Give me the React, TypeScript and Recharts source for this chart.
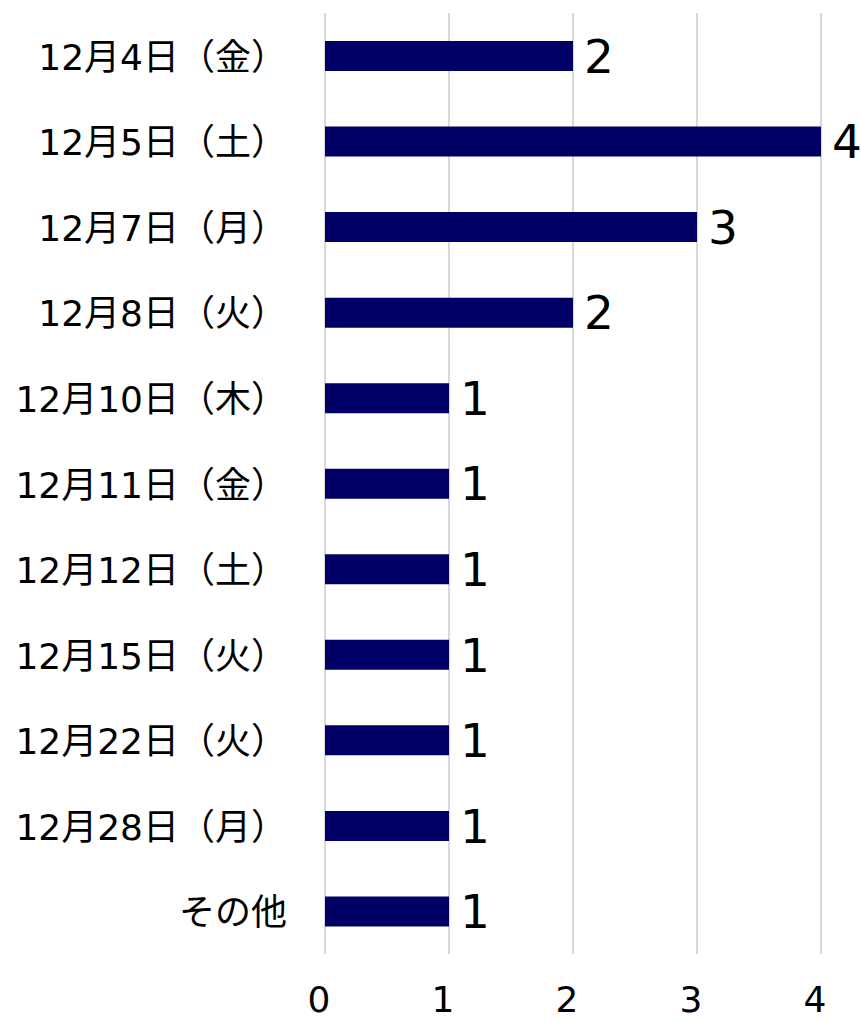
import React from 'react';
import { BarChart, Bar, XAxis, YAxis, CartesianGrid, LabelList } from 'recharts';

const dates = [
  '12月4日（金）',
  '12月5日（土）',
  '12月7日（月）',
  '12月8日（火）',
  '12月10日（木）',
  '12月11日（金）',
  '12月12日（土）',
  '12月15日（火）',
  '12月22日（火）',
  '12月28日（月）',
  'その他',
];
const counts = [2, 4, 3, 2, 1, 1, 1, 1, 1, 1, 1];
const xTicks = [0, 1, 2, 3, 4];

const data = dates.map((name, i) => ({ name, count: counts[i] }));

const FONT = "'DejaVu Sans', 'Noto Sans CJK JP', sans-serif";

const DateTick = (props: any) => {
  const { x, y, payload } = props;
  return (
    <text x={x - 30} y={y + 14} textAnchor="end" fontSize={36} fontFamily={FONT} fill="#000">
      {payload.value}
    </text>
  );
};

const CountTick = (props: any) => {
  const { x, y, payload } = props;
  return (
    <text x={x - 6} y={y + 50} textAnchor="middle" fontSize={36} fontFamily={FONT} fill="#000">
      {payload.value}
    </text>
  );
};

const App: React.FC = () => {
  return (
    <div style={{ position: 'absolute', left: 0, top: 0, background: '#fff' }}>
      <BarChart
        width={861}
        height={1022}
        data={data}
        layout="vertical"
        margin={{ top: 13, right: 40, left: 0, bottom: 0 }}
      >
        <CartesianGrid horizontal={false} stroke="#d9d9d9" strokeWidth={2} />
        <XAxis
          type="number"
          domain={[0, 4]}
          ticks={xTicks}
          axisLine={false}
          tickLine={false}
          height={68}
          tick={<CountTick />}
        />
        <YAxis
          type="category"
          dataKey="name"
          width={325}
          axisLine={false}
          tickLine={false}
          interval={0}
          tick={<DateTick />}
        />
        <Bar dataKey="count" fill="#000066" barSize={30} isAnimationActive={false}>
          <LabelList
            dataKey="count"
            position="right"
            offset={11}
            fontSize={47}
            fontFamily={FONT}
            fill="#000"
          />
        </Bar>
      </BarChart>
    </div>
  );
};

export default App;
